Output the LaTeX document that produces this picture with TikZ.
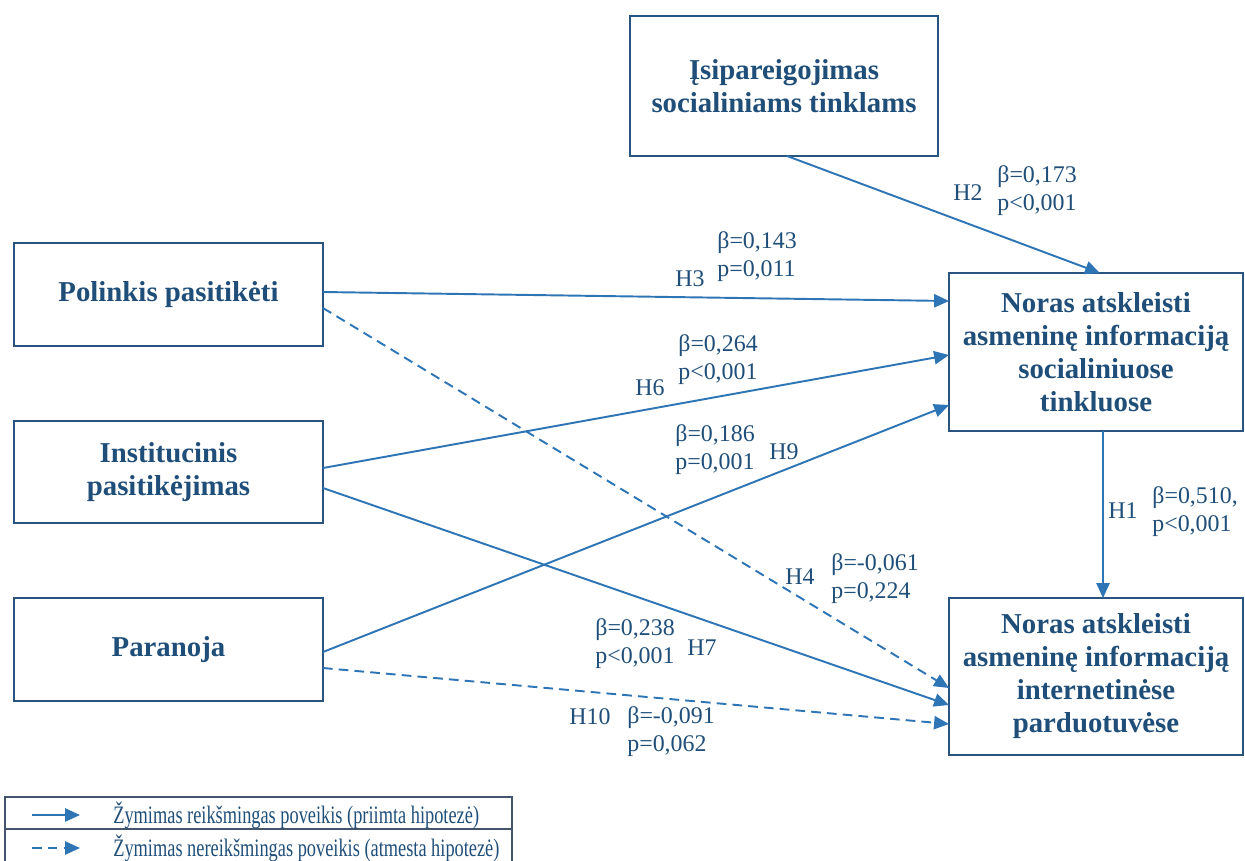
\documentclass[tikz,border=0pt]{standalone}
\usepackage{fontspec}
\setmainfont{Liberation Serif}
\newfontfamily\legendfont[FakeStretch=0.73]{Liberation Serif}
\usetikzlibrary{arrows.meta,calc}
\definecolor{txtblue}{RGB}{31,78,121}
\definecolor{boxblue}{RGB}{41,84,128}
\definecolor{arrblue}{RGB}{46,117,182}
\definecolor{legline}{RGB}{68,84,106}
\begin{document}
\begin{tikzpicture}[x=0.02cm,y=-0.02cm,
  construct/.style={draw=boxblue,line width=1.1pt,inner sep=0pt,outer sep=0pt,
    align=center,text=txtblue,font=\fontsize{16.4}{18.8}\selectfont\bfseries},
  effect/.style={draw=arrblue,line width=1.1pt,-{Triangle[length=8.5pt,width=7.5pt]}},
  weak/.style={effect,dash pattern=on 5.5pt off 3.5pt},
  coef/.style={inner sep=0pt,text=txtblue,align=left,anchor=west,
    font=\fontsize{13.6}{15.9}\selectfont},
  hyp/.style={inner sep=0pt,text=txtblue,font=\fontsize{13.6}{15.9}\selectfont},
  legtext/.style={inner sep=0pt,anchor=west,text=txtblue,
    font=\legendfont\fontsize{14.3}{16}\selectfont},
]
\useasboundingbox (0,0) rectangle (1245,860);

% constructs
\node[construct,minimum width=6.16cm,minimum height=2.80cm] (com) at (784,86)
  {Įsipareigojimas\\socialiniams tinklams};
\node[construct,minimum width=6.18cm,minimum height=2.06cm] (pol) at (168.5,294.5)
  {Polinkis pasitikėti};
\node[construct,minimum width=6.18cm,minimum height=2.04cm] (inst) at (168.5,472)
  {Institucinis\\pasitikėjimas};
\node[construct,minimum width=6.18cm,minimum height=2.06cm] (par) at (168.5,649.5)
  {Paranoja};
\node[construct,minimum width=5.88cm,minimum height=3.16cm] (soc) at (1096,352)
  {Noras atskleisti\\asmeninę informaciją\\socialiniuose\\tinkluose};
\node[construct,minimum width=5.88cm,minimum height=3.14cm] (shop) at (1096,676.5)
  {Noras atskleisti\\asmeninę informaciją\\internetinėse\\parduotuvėse};

% paths
\draw[effect] ($(com.south)+(3,0)$) -- ($(soc.north)+(4,0)$);
\draw[effect] ($(pol.east)+(0,-2.5)$) -- ($(soc.west)+(0,-51)$);
\draw[weak]   ($(pol.east)+(0,13.5)$) -- ($(shop.west)+(0,11.5)$);
\draw[effect] ($(inst.east)+(0,-4)$) -- ($(soc.west)+(0,3)$);
\draw[effect] ($(inst.east)+(0,16)$) -- ($(shop.west)+(0,28.5)$);
\draw[effect] ($(par.east)+(0,2.5)$) -- ($(soc.west)+(0,53)$);
\draw[weak]   ($(par.east)+(0,18.5)$) -- ($(shop.west)+(0,47.5)$);
\draw[effect] ($(soc.south)+(7,0)$) -- ($(shop.north)+(7,0)$);

% coefficients
\node[hyp] (h2) at (968,193) {H2};
\node[coef] (c2) at (997,191) {β=0,173\\p<0,001};
\node[hyp] (h3) at (690,279) {H3};
\node[coef] (c3) at (717,257) {β=0,143\\p=0,011};
\node[hyp] (h6) at (650,388) {H6};
\node[coef] (c6) at (678,360) {β=0,264\\p<0,001};
\node[hyp] (h9) at (784,452) {H9};
\node[coef] (c9) at (675,450) {β=0,186\\p=0,001};
\node[hyp] (h4) at (800,577) {H4};
\node[coef] (c4) at (831,579) {β=-0,061\\p=0,224};
\node[hyp] (h7) at (702,648) {H7};
\node[coef] (c7) at (595,644) {β=0,238\\p<0,001};
\node[hyp] (h10) at (590,717) {H10};
\node[coef] (c10) at (627,732) {β=-0,091\\p=0,062};
\node[hyp] (h1) at (1123,511) {H1};
\node[coef] (c1) at (1152,512) {β=0,510,\\p<0,001};

% legend
\draw[legline,line width=0.6pt] (5,870) -- (5,797) -- (512,797) -- (512,870);
\draw[legline,line width=0.6pt] (5,829) -- (512,829);
\coordinate (la) at (32,815);
\coordinate (lb) at (80,815);
\coordinate (lc) at (32,848);
\coordinate (ld) at (80,848);
\draw[effect] (la) -- (lb);
\draw[weak] (lc) -- (ld);
\node[legtext] (l1) at (113,815) {Žymimas reikšmingas poveikis (priimta hipotezė)};
\node[legtext] (l2) at (113,848) {Žymimas nereikšmingas poveikis (atmesta hipotezė)};
\end{tikzpicture}
\end{document}
